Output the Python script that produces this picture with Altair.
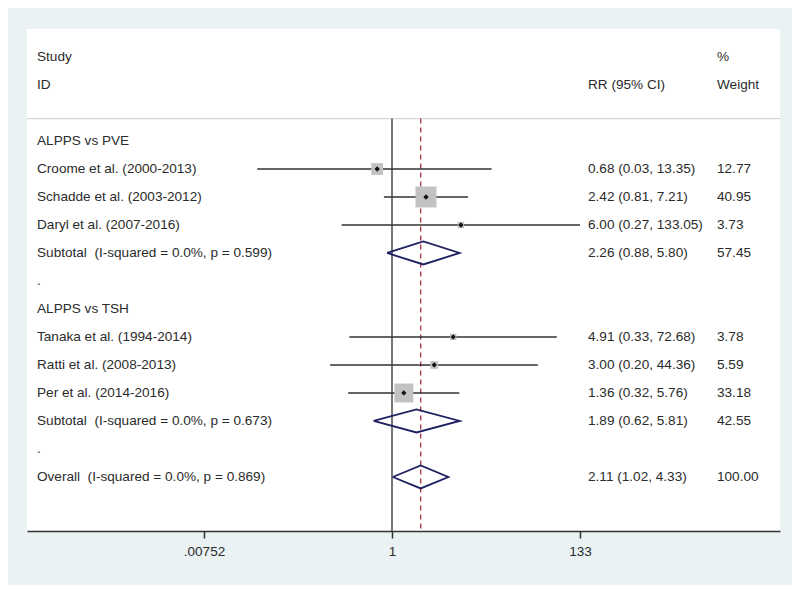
import altair as alt
import pandas as pd

# ---------------- data ----------------
study_labels = ["Croome et al. (2000-2013)", "Schadde et al. (2003-2012)", "Daryl et al. (2007-2016)",
                "Tanaka et al. (1994-2014)", "Ratti et al. (2008-2013)", "Per et al. (2014-2016)"]
study_rows = [2, 3, 4, 8, 9, 10]
study_rr = [0.68, 2.42, 6.00, 4.91, 3.00, 1.36]
study_lo = [0.03, 0.81, 0.27, 0.33, 0.20, 0.32]
study_hi = [13.35, 7.21, 133.05, 72.68, 44.36, 5.76]
study_weight = [12.77, 40.95, 3.73, 3.78, 5.59, 33.18]

summary_labels = ["Subtotal\u00a0 (I-squared = 0.0%, p = 0.599)",
                  "Subtotal\u00a0 (I-squared = 0.0%, p = 0.673)",
                  "Overall\u00a0 (I-squared = 0.0%, p = 0.869)"]
summary_rows = [5, 11, 13]
summary_rr = [2.26, 1.89, 2.11]
summary_lo = [0.88, 0.62, 1.02]
summary_hi = [5.80, 5.81, 4.33]
summary_weight = [57.45, 42.55, 100.00]

group_labels = ["ALPPS vs PVE", ".", "ALPPS vs TSH", "."]
group_rows = [1, 6, 7, 12]

overall_rr = 2.11
tick_values = [0.00752, 1, 133]
tick_labels = [".00752", "1", "133"]

# ---------------- tables ----------------
studies = pd.DataFrame({
    "label": study_labels, "row": study_rows, "rr": study_rr,
    "lo": study_lo, "hi": study_hi, "weight": study_weight,
})
studies["rr_text"] = [f"{r:.2f} ({l:.2f}, {h:.2f})" for r, l, h in zip(study_rr, study_lo, study_hi)]
studies["w_text"] = [f"{w:.2f}" for w in study_weight]

summ = pd.DataFrame({
    "label": summary_labels, "row": summary_rows, "rr": summary_rr,
    "lo": summary_lo, "hi": summary_hi, "weight": summary_weight,
})
summ["rr_text"] = [f"{r:.2f} ({l:.2f}, {h:.2f})" for r, l, h in zip(summary_rr, summary_lo, summary_hi)]
summ["w_text"] = [f"{w:.2f}" for w in summary_weight]

half_h = 0.41
verts = []
for i, (r, e, l, h) in enumerate(zip(summary_rows, summary_rr, summary_lo, summary_hi)):
    pts = [(l, r), (e, r - half_h), (h, r), (e, r + half_h), (l, r)]
    for k, (xv, yv) in enumerate(pts):
        verts.append({"g": i, "k": k, "x": xv, "y": yv})
diam = pd.DataFrame(verts)

groups = pd.DataFrame({"label": group_labels, "row": group_rows})

headers = pd.DataFrame({
    "text": ["Study", "ID", "RR (95% CI)", "%", "Weight"],
    "row": [-2, -1, -1, -2, -1],
    "col": [10, 10, 561, 690, 690],
})

left_text = pd.concat([
    studies[["label", "row"]], summ[["label", "row"]], groups
], ignore_index=True)
right_text = pd.concat([studies[["row", "rr_text", "w_text"]], summ[["row", "rr_text", "w_text"]]],
                       ignore_index=True)

# ---------------- scales ----------------
W, H = 753, 502
xscale = alt.Scale(type="log", domain=[7.53e-5, 24150], nice=False, zero=False)
yscale = alt.Scale(domain=[-3, 14.93], reverse=True, nice=False, zero=False)
xaxis = alt.Axis(values=tick_values,
                 labelExpr="datum.value < 0.01 ? '.00752' : datum.value < 2 ? '1' : '133'",
                 title=None, grid=False, domainColor="#333333", domainWidth=1.5,
                 tickColor="#333333", tickWidth=1.5, tickSize=7, labelFontSize=13.5,
                 labelColor="#2b2b2b", labelFont="Liberation Sans", labelPadding=6,
                 labelFlush=False)

FONT = "Liberation Sans"
TXT = "#2b2b2b"
FS = 13.6

base_x = lambda f: alt.X(f, type="quantitative", scale=xscale, axis=xaxis)
base_y = lambda f: alt.Y(f, type="quantitative", scale=yscale, axis=None)

header_line = alt.Chart(pd.DataFrame({"y": [0.2]})).mark_rule(color="#d4d4d4", strokeWidth=1.2).encode(
    y=base_y("y"), x=alt.value(0), x2=alt.value(W))

vline = alt.Chart(pd.DataFrame({"x": [1], "y": [0.2], "y2": [14.93]})).mark_rule(
    color="#555555", strokeWidth=1.6).encode(x=base_x("x"), y=base_y("y"), y2="y2")

dline = alt.Chart(pd.DataFrame({"x": [overall_rr], "y": [0.2], "y2": [14.93]})).mark_rule(
    color="#a8323e", strokeWidth=1.3, strokeDash=[5, 4]).encode(x=base_x("x"), y=base_y("y"), y2="y2")

boxes = alt.Chart(studies).mark_square(color="#c2c2c2", opacity=1).encode(
    x=base_x("rr"), y=base_y("row"),
    size=alt.Size("weight:Q", scale=alt.Scale(domain=[0, 40.95], range=[0, 441]), legend=None))

ci = alt.Chart(studies).mark_rule(color="#333333", strokeWidth=1.5).encode(
    x=base_x("lo"), x2="hi", y=base_y("row"))

pts = alt.Chart(studies).mark_point(shape="diamond", filled=True, color="#111111", size=28, opacity=1).encode(
    x=base_x("rr"), y=base_y("row"))

diamonds = alt.Chart(diam).mark_line(color="#1e2160", strokeWidth=1.8).encode(
    x=base_x("x"), y=base_y("y"), detail="g:N", order="k:Q")

ltext = alt.Chart(left_text).mark_text(align="left", baseline="middle", font=FONT, fontSize=FS,
                                       color=TXT).encode(
    x=alt.value(10), y=base_y("row"), text="label:N")

rr_t = alt.Chart(right_text).mark_text(align="left", baseline="middle", font=FONT, fontSize=FS,
                                       color=TXT).encode(
    x=alt.value(561), y=base_y("row"), text="rr_text:N")

w_t = alt.Chart(right_text).mark_text(align="left", baseline="middle", font=FONT, fontSize=FS,
                                      color=TXT).encode(
    x=alt.value(690), y=base_y("row"), text="w_text:N")

hdr = alt.Chart(headers).mark_text(align="left", baseline="middle", font=FONT, fontSize=FS,
                                   color=TXT).encode(
    x=alt.X("col:Q", scale=None), y=base_y("row"), text="text:N")

chart = alt.layer(header_line, vline, dline, ci, boxes, pts, diamonds, ltext, rr_t, w_t, hdr).properties(
    width=W, height=H,
    background="#EAF2F3",
    padding={"left": 19, "top": 21, "right": 12, "bottom": 54},
    autosize=alt.AutoSizeParams(type="none"),
).configure_view(fill="white", stroke=None)

chart.save("out.html", embed_options={"renderer": "svg", "actions": False})
